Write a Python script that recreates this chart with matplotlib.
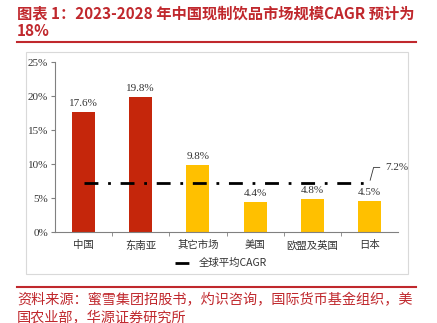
import matplotlib
matplotlib.use('Agg')
import matplotlib.pyplot as plt
from matplotlib.patches import Rectangle
from matplotlib.lines import Line2D

plt.rcParams['font.family'] = ['Liberation Serif', 'Noto Sans CJK SC', 'DejaVu Sans']

# data
regions = ['中国', '东南亚', '其它市场', '美国', '欧盟及英国', '日本']
cagr = [17.6, 19.8, 9.8, 4.4, 4.8, 4.5]
bar_colors = ['#C5260B', '#C5260B', '#FFC000', '#FFC000', '#FFC000', '#FFC000']
global_avg = 7.2
yticks = [0, 5, 10, 15, 20, 25]

W, H = 437, 323
red = '#C0282D'
cjk = ['Noto Sans CJK SC', 'DejaVu Sans']

fig = plt.figure(figsize=(W / 100, H / 100), dpi=100)

def px(x, y):
    # pixel coords (top-left origin) to figure fraction
    return x / W, 1 - y / H

# title
fig.text(*px(17, 13), '图表 1：2023-2028 年中国现制饮品市场规模CAGR 预计为',
         color=red, fontsize=11, fontweight='bold', va='center', ha='left', family=cjk)
fig.text(*px(17, 31), '18%', color=red, fontsize=11, fontweight='bold',
         va='center', ha='left', family=cjk)
fig.add_artist(Line2D([17 / W, 416 / W], [1 - 42 / H, 1 - 42 / H], color=red, lw=1.5))

# chart frame
x0, y0 = px(26, 274)
x1, y1 = px(408, 52)
fig.add_artist(Rectangle((x0, y0), x1 - x0, y1 - y0, fill=False, ec='#D9D9D9', lw=0.8))

# axes
ax_l, ax_b = px(55, 232)
ax_r, ax_t = px(398, 62)
ax = fig.add_axes([ax_l, ax_b, ax_r - ax_l, ax_t - ax_b])
xs = list(range(len(regions)))
ax.bar(xs, cagr, width=0.4, color=bar_colors, zorder=2)
for x, v in zip(xs, cagr):
    ax.text(x, v + 0.6, f'{v:.1f}%', ha='center', va='bottom', fontsize=8, color='#333333')
dashdot = (0, (5, 3.5, 1, 3.5))
ax.plot(xs, [global_avg] * len(xs), color='black', lw=2, ls=dashdot, zorder=3)
ax.annotate(f'{global_avg:.1f}%', xy=(xs[-1], global_avg), xytext=(xs[-1] + 0.28, global_avg + 2.3),
            fontsize=8, color='#333333', va='center',
            arrowprops=dict(arrowstyle='-', color='#333333', lw=0.6,
                            connectionstyle='angle,angleA=0,angleB=75,rad=0'))

ax.set_xlim(-0.5, len(regions) - 0.5)
ax.set_ylim(0, 25)
ax.set_yticks(yticks)
ax.set_yticklabels([f'{t}%' for t in yticks], fontsize=8, color='#333333')
ax.set_xticks(xs)
ax.set_xticklabels(regions, fontsize=7.5, color='#333333', family=cjk)
ax.set_xticks([x + 0.5 for x in xs[:-1]], minor=True)
ax.tick_params(axis='x', which='major', length=0, pad=6)
ax.tick_params(axis='x', which='minor', length=3, direction='out', color='#808080')
ax.tick_params(axis='y', length=3, direction='out', color='#808080', pad=2)
for s in ['top', 'right']:
    ax.spines[s].set_visible(False)
ax.spines['left'].set_color('#808080')
ax.spines['bottom'].set_color('#808080')

# legend
lx0, ly = px(175, 263)
lx1, _ = px(191, 263)
fig.add_artist(Line2D([lx0, lx1], [ly, ly], color='black', lw=2, ls=dashdot))
fig.text(*px(199, 263), '全球平均CAGR', fontsize=7.5, color='#333333', va='center', ha='left', family=cjk)

# source
fig.add_artist(Line2D([17 / W, 416 / W], [1 - 287 / H, 1 - 287 / H], color=red, lw=1.5))
fig.text(*px(17, 300), '资料来源：蜜雪集团招股书，灼识咨询，国际货币基金组织，美',
         color=red, fontsize=10.2, va='center', ha='left', family=cjk)
fig.text(*px(17, 318), '国农业部，华源证券研究所',
         color=red, fontsize=10.2, va='center', ha='left', family=cjk)

fig.savefig('out.png', dpi=100)
